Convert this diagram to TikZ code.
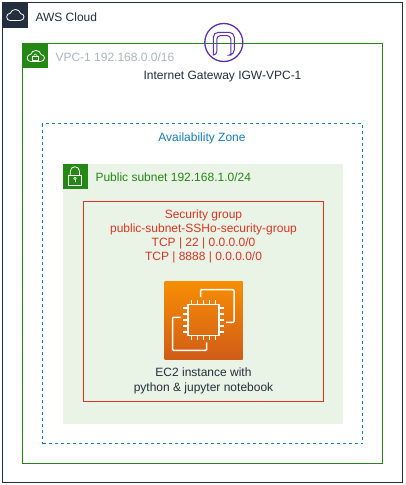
\documentclass[tikz,border=0pt]{standalone}
\usepackage{fontspec}
\setmainfont{Liberation Sans}
\definecolor{awsnavy}{HTML}{232F3E}
\definecolor{vpcgreen}{HTML}{248814}
\definecolor{subnetbg}{HTML}{E9F3E6}
\definecolor{azblue}{HTML}{147EBA}
\definecolor{sgred}{HTML}{DD3522}
\definecolor{igwpurple}{HTML}{5A30B5}
\definecolor{vpcgray}{HTML}{AAB7B8}
\definecolor{ec2top}{HTML}{F78E04}
\definecolor{ec2bot}{HTML}{D05C17}
\tikzset{
  every node/.style={font=\fontsize{12}{14}\selectfont},
  box/.style={inner sep=0pt,outer sep=0pt,minimum width=#1},
  badge/.style={minimum size=25pt,inner sep=0pt,outer sep=0pt,anchor=north west},
  icon/.style={white,line width=.8pt,line join=round,line cap=round},
  chip/.style={white,line width=1.5pt,line join=round},
  cloudicon/.pic={\draw[icon] (-5,5.5) -- (5,5.5) .. controls (7.5,5.5) and (9,3.7) .. (9,1.8) .. controls (9,0) and (7.5,-1.3) .. (5.7,-1.3) .. controls (5,-4) and (3,-5.5) .. (.5,-5.5) .. controls (-2,-5.5) and (-4,-4) .. (-4.7,-1.8) .. controls (-7,-1.5) and (-8.3,0) .. (-8.3,2) .. controls (-8.3,4) and (-7,5.5) .. (-5,5.5) -- cycle;}
}
\begin{document}
\begin{tikzpicture}[x=1pt,y=-1pt]
\useasboundingbox (0,0) rectangle (405,485);
\fill[white] (0,0) rectangle (405,485);
% frames
\node[box=400pt,minimum height=480pt,draw=awsnavy,line width=1pt] (cloud) at (202.5,242.5) {};
\node[box=360pt,minimum height=420pt,draw=vpcgreen,line width=1pt] (vpc) at (202.5,253) {};
\node[box=320pt,minimum height=320pt,draw=azblue,line width=1pt,dashed] (zone) at (202.5,283.5) {};
\node[box=280pt,minimum height=260pt,fill=subnetbg] (subnet) at (202.5,293.5) {};
\node[box=240pt,minimum height=200pt,draw=sgred,line width=1pt] (group) at (203.5,301.5) {};
% badges
\node[badge,fill=awsnavy] (cloudbadge) at (cloud.north west) {};
\node[badge,fill=vpcgreen] (vpcbadge) at (vpc.north west) {};
\node[badge,fill=vpcgreen] (subnetbadge) at (subnet.north west) {};
\pic at (cloudbadge.center) {cloudicon};
\pic at ([shift={(.5,.5)}]vpcbadge.center) {cloudicon};
\draw[icon,line width=.6pt] ([shift={(-2.5,1)}]vpcbadge.center) rectangle ([shift={(3.3,4.5)}]vpcbadge.center);
\draw[icon,line width=.6pt] ([shift={(-1.2,1)}]vpcbadge.center) -- ++(0,-1) arc[start angle=180,end angle=360,radius=1.6] -- ++(0,1);
\draw[icon] ([shift={(-6.5,-1)}]subnetbadge.center) rectangle ([shift={(6.3,9)}]subnetbadge.center);
\draw[icon] ([shift={(-4.7,-1)}]subnetbadge.center) -- ++(0,-3.7) arc[start angle=180,end angle=360,radius=4.6] -- ++(0,3.7);
\draw[icon,line width=.7pt] ([shift={(0,2.3)}]subnetbadge.center) circle (1.3);
\draw[icon,line width=.7pt] ([shift={(0,3.6)}]subnetbadge.center) -- ++(0,2.4);
% gateway
\node[circle,draw=igwpurple,line width=1.3pt,minimum size=38pt,inner sep=0pt] (igw) at (223.8,42.5) {};
\draw[igwpurple,line width=1pt,rounded corners=5pt] ([shift={(-10.5,12.5)}]igw.center) -- ++(0,-22.7) -- ++(21,0) -- ++(0,22.7) [sharp corners] -- ++(-3.5,0) [rounded corners=3.5pt] -- ++(0,-19.3) -- ++(-14,0) -- ++(0,19.3) [sharp corners] -- cycle;
% ec2
\node[box=78pt,minimum height=78pt,top color=ec2top,bottom color=ec2bot] (ec2) at (203.5,320) {};
\draw[chip] ([shift={(-15.3,-15.3)}]ec2.center) rectangle ([shift={(15.3,15.3)}]ec2.center);
\foreach \i in {-12,-6,0,6,12} {
  \draw[chip] ([shift={(\i,-15.3)}]ec2.center) -- ++(0,-5) ([shift={(\i,15.3)}]ec2.center) -- ++(0,5);
  \draw[chip] ([shift={(-15.3,\i)}]ec2.center) -- ++(-5,0) ([shift={(15.3,\i)}]ec2.center) -- ++(5,0);
}
\draw[chip,rounded corners=1pt] ([shift={(-3,-23)}]ec2.center) -- ++(0,-7.3) -- ++(33.5,0) -- ++(0,32.7) -- ++(-8,0);
\draw[chip,rounded corners=1pt] ([shift={(-23,-2.6)}]ec2.center) -- ++(-8,0) -- ++(0,33) -- ++(34.2,0) -- ++(0,-8);
% labels
\node[anchor=west,text=awsnavy] (cloudlabel) at (32,17) {AWS Cloud};
\node[anchor=west,text=vpcgray] (vpclabel) at (52,57) {VPC-1 192.168.0.0/16};
\node[text=awsnavy] (igwlabel) at (222.5,77) {Internet Gateway IGW-VPC-1};
\node[text=azblue] (zonelabel) at (202,138) {Availability Zone};
\node[anchor=west,text=vpcgreen] (subnetlabel) at (92,177.5) {Public subnet 192.168.1.0/24};
\node[text=sgred,align=center,font=\fontsize{12}{14}\selectfont] (grouplabel) at (203.5,236.5) {Security group\\public-subnet-SSHo-security-group\\TCP | 22 | 0.0.0.0/0\\TCP | 8888 | 0.0.0.0/0};
\node[text=awsnavy,align=center,font=\fontsize{12}{15}\selectfont] (ec2label) at (203.5,380.5) {EC2 instance with\\python \& jupyter notebook};
\end{tikzpicture}
\end{document}
